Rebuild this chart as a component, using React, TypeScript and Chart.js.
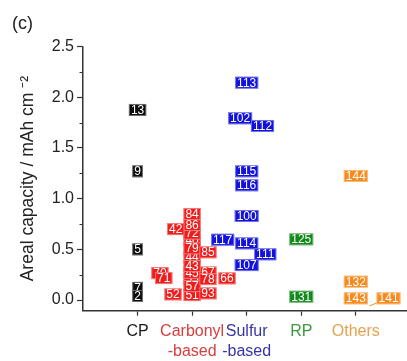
import React, { useEffect, useRef } from 'react';
import { Chart, registerables } from 'chart.js';

Chart.register(...registerables);

// ---------- data ----------
const categories: string[][] = [['CP'], ['Carbonyl', '-based'], ['Sulfur', '-based'], ['RP'], ['Others']];
const categoryPositions = [1, 2, 3, 4, 5];
const categoryColors = ['#1a1a1a', '#d63d3d', '#3535a6', '#3c9a3c', '#e6a24e'];
const yTickValues = [0, 0.5, 1, 1.5, 2, 2.5];
const yMinorTickValues = [0.25, 0.75, 1.25, 1.75, 2.25];

const cpLabels = ['13', '9', '5', '7', '2'];
const cpX = [1, 1, 1, 1, 1];
const cpY = [1.875, 1.27, 0.5, 0.12, 0.04];

const carbonylLabels = ['84', '40', '44', '55', '45', '67', '70', '51', '72', '86', '79', '43', '57', '42', '85', '71', '78', '66', '52', '93'];
const carbonylX = [2, 2, 2, 2, 2, 2.29, 1.41, 2, 2, 2, 2, 2, 2, 1.7, 2.29, 1.48, 2.29, 2.64, 1.65, 2.29];
const carbonylY = [0.849, 0.59, 0.42, 0.205, 0.268, 0.272, 0.266, 0.049, 0.655, 0.74, 0.51, 0.336, 0.138, 0.7, 0.471, 0.217, 0.207, 0.214, 0.056, 0.066];

const sulfurLabels = ['113', '102', '112', '115', '116', '100', '117', '114', '111', '107'];
const sulfurX = [3, 2.88, 3.29, 3, 3, 3, 2.56, 3, 3.34, 3];
const sulfurY = [2.144, 1.793, 1.717, 1.27, 1.132, 0.829, 0.595, 0.559, 0.451, 0.345];

const rpLabels = ['125', '131'];
const rpX = [4, 4];
const rpY = [0.599, 0.033];

const othersLabels = ['144', '132', '143', '141'];
const othersX = [5, 5, 5, 5.6];
const othersY = [1.224, 0.181, 0.017, 0.017];

const leaderX = [5.25, 5.385];
const leaderY = [-0.059, -0.027];

const boxColors = ['#0b0b0b', '#f01c1c', '#1212dc', '#12891a', '#f88a1c'];

// ---------- helpers ----------
const toPoints = (xs: number[], ys: number[]) => xs.map((x, i) => ({ x, y: ys[i] }));

const FONT = '"Liberation Sans", Arial, sans-serif';

const boxLabelPlugin = {
  id: 'boxLabels',
  afterDatasetsDraw(chart: any) {
    const ctx = chart.ctx;
    ctx.save();
    ctx.font = `12px ${FONT}`;
    ctx.textAlign = 'center';
    ctx.textBaseline = 'middle';
    chart.data.datasets.forEach((ds: any, di: number) => {
      if (!ds.boxLabels) return;
      const meta = chart.getDatasetMeta(di);
      meta.data.forEach((el: any, i: number) => {
        const text = ds.boxLabels[i];
        const w = ctx.measureText(text).width + 4;
        const h = 12;
        const x0 = el.x - w / 2;
        const y0 = el.y - h / 2;
        ctx.fillStyle = ds.boxColor;
        ctx.fillRect(x0, y0, w, h);
        ctx.strokeStyle = 'rgba(255,255,255,0.4)';
        ctx.lineWidth = 1;
        ctx.strokeRect(x0 + 0.5, y0 + 0.5, w - 1, h - 1);
        ctx.fillStyle = '#ffffff';
        ctx.fillText(text, el.x, el.y + 0.5);
      });
    });
    ctx.restore();
  },
};

const minorTickPlugin = {
  id: 'minorTicks',
  afterDraw(chart: any) {
    const y = chart.scales.y;
    const ctx = chart.ctx;
    ctx.save();
    ctx.strokeStyle = '#333';
    ctx.lineWidth = 1;
    yMinorTickValues.forEach((v) => {
      const py = Math.round(y.getPixelForValue(v)) + 0.5;
      ctx.beginPath();
      ctx.moveTo(chart.chartArea.left - 3.5, py);
      ctx.lineTo(chart.chartArea.left, py);
      ctx.stroke();
    });
    ctx.restore();
  },
};

export default function App() {
  const ref = useRef<HTMLCanvasElement>(null);

  useEffect(() => {
    if (!ref.current) return;
    Chart.defaults.font.family = FONT;
    const groups = [
      { labels: cpLabels, xs: cpX, ys: cpY },
      { labels: carbonylLabels, xs: carbonylX, ys: carbonylY },
      { labels: sulfurLabels, xs: sulfurX, ys: sulfurY },
      { labels: rpLabels, xs: rpX, ys: rpY },
      { labels: othersLabels, xs: othersX, ys: othersY },
    ];
    const datasets: any[] = [
      {
        data: toPoints(leaderX, leaderY),
        showLine: true,
        borderColor: boxColors[4],
        borderWidth: 1,
        pointRadius: 0,
      },
      ...groups.map((g, gi) => ({
        data: toPoints(g.xs, g.ys),
        boxLabels: g.labels,
        boxColor: boxColors[gi],
        pointRadius: 0,
        showLine: false,
      })),
    ];

    const chart = new Chart(ref.current, {
      type: 'scatter',
      data: { datasets },
      plugins: [boxLabelPlugin, minorTickPlugin],
      options: {
        animation: false,
        responsive: true,
        maintainAspectRatio: false,
        layout: { padding: { left: 12, right: 1, top: 0, bottom: 0 } },
        plugins: {
          legend: { display: false },
          tooltip: { enabled: false },
          title: {
            display: true,
            text: '(c)',
            align: 'start',
            color: '#222',
            font: { size: 18, weight: 'normal' },
            padding: { top: 13, bottom: 12 },
          },
        },
        scales: {
          x: {
            type: 'linear',
            min: 0,
            max: 5.92,
            afterBuildTicks: (scale: any) => {
              scale.ticks = categoryPositions.map((v) => ({ value: v }));
            },
            afterFit: (scale: any) => {
              scale.height = 50.3;
            },
            border: { display: true, color: '#333', width: 1.5 },
            grid: { display: true, drawOnChartArea: false, drawTicks: true, tickLength: 5, tickColor: '#333', tickWidth: 1.2 },
            ticks: {
              autoSkip: false,
              maxRotation: 0,
              padding: 6,
              font: { size: 16, lineHeight: 1.25 },
              color: (ctx: any) => categoryColors[ctx.index] ?? '#222',
              callback: (v: any) => categories[categoryPositions.indexOf(Number(v))] ?? '',
            },
          },
          y: {
            type: 'linear',
            min: -0.105,
            max: 2.5,
            afterBuildTicks: (scale: any) => {
              scale.ticks = yTickValues.map((v) => ({ value: v }));
            },
            afterFit: (scale: any) => {
              scale.width = 71;
            },
            border: { display: true, color: '#333', width: 1.5 },
            grid: { display: true, drawOnChartArea: false, drawTicks: true, tickLength: 6, tickColor: '#333', tickWidth: 1.2 },
            ticks: {
              padding: 3,
              color: '#222',
              font: { size: 16 },
              callback: (v: any) => Number(v).toFixed(1),
            },
            title: {
              display: true,
              text: 'Areal capacity / mAh cm ⁻²',
              color: '#222',
              font: { size: 17.5 },
              padding: { top: 6, bottom: 0 },
            },
          },
        },
      } as any,
    });
    return () => chart.destroy();
  }, []);

  return (
    <div style={{ position: 'fixed', left: 0, top: 0, width: 407, height: 361, background: '#fff' }}>
      <canvas ref={ref} />
    </div>
  );
}
